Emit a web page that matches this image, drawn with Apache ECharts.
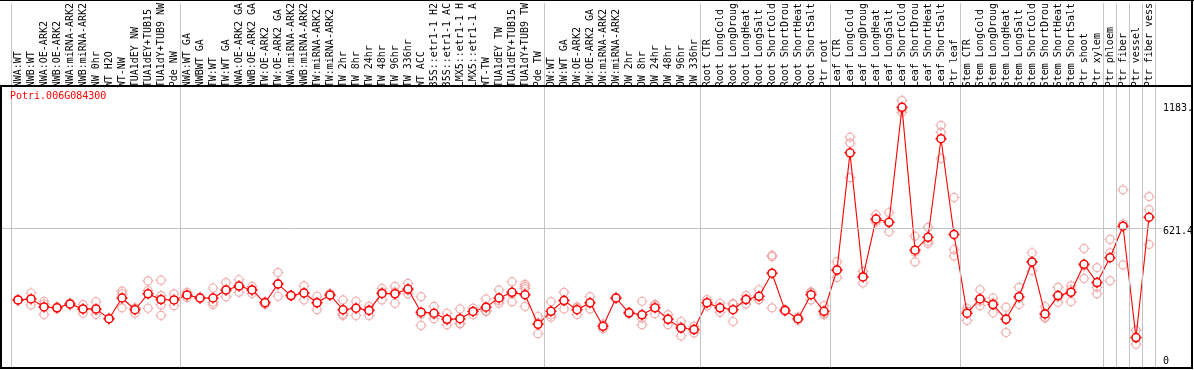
<!DOCTYPE html>
<html>
<head>
<meta charset="utf-8">
<script src="https://cdn.jsdelivr.net/npm/echarts@6/dist/echarts.min.js"></script>
<style>
html,body{margin:0;padding:0;background:#fff;}
#chart{width:1194px;height:370px;}
</style>
</head>
<body>
<div id="chart"></div>
<script>
const geneTitle = 'Potri.006G084300';

const categories = [
  'NWA:WT','NWB:WT','NWA:OE-ARK2','NWB:OE-ARK2','NWA:miRNA-ARK2','NWB:miRNA-ARK2','NW 0hr','WT H2O','WT-NW','TUA1dEY NW','TUA1dEY+TUB15','TUA1dY+TUB9 NW','Pde NW',
  'NWA:WT GA','NWBWT GA','TW:WT','TW:WT GA','NWA:OE-ARK2 GA','NWB:OE-ARK2 GA','TW:OE-ARK2','TW:OE-ARK2 GA','NWA:miRNA-ARK2','NWB:miRNA-ARK2','TW:miRNA-ARK2','TW:miRNA-ARK2','TW 2hr','TW 8hr','TW 24hr','TW 48hr','TW 96hr','TW 336hr','WT ACC','35S::etr1-1 H2','35S::etr1-1 AC','LMX5::etr1-1 H','LMX5::etr1-1 A','WT-TW','TUA1dEY TW','TUA1dEY+TUB15','TUA1dY+TUB9 TW','Pde TW',
  'OW:WT','OW:WT GA','OW:OE-ARK2','OW:OE-ARK2 GA','OW:miRNA-ARK2','OW:miRNA-ARK2','OW 2hr','OW 8hr','OW 24hr','OW 48hr','OW 96hr','OW 336hr',
  'Root CTR','Root LongCold','Root LongDroug','Root LongHeat','Root LongSalt','Root ShortCold','Root ShortDrou','Root ShortHeat','Root ShortSalt','Ptr root',
  'Leaf CTR','Leaf LongCold','Leaf LongDroug','Leaf LongHeat','Leaf LongSalt','Leaf ShortCold','Leaf ShortDrou','Leaf ShortHeat','Leaf ShortSalt','Ptr leaf',
  'Stem CTR','Stem LongCold','Stem LongDroug','Stem LongHeat','Stem LongSalt','Stem ShortCold','Stem ShortDrou','Stem ShortHeat','Stem ShortSalt','Ptr shoot','Ptr xylem',
  'Ptr phloem','Ptr fiber','Ptr vessel','Ptr fiber vess'
];

const meanValues = [
  298,303,266,262,280,257,257,212,307,253,326,300,298,
  321,307,307,344,362,344,285,371,318,330,285,321,253,260,250,328,326,348,242,237,209,212,245,265,307,333,322,186,
  246,295,253,285,177,307,239,230,262,209,169,162,
  285,262,253,300,315,421,250,212,322,246,
  436,974,404,670,655,1183,527,586,1039,599,
  237,303,277,209,313,473,234,318,333,462,378,
  492,637,125,678
];

const replicateValues = [
  [295,301],[330,275],[292,231,280],[258,266],[276,284],[277,237,257],[290,231,250],[210,214],[339,326,262],[237,260,262],[386,341,260],[389,318,275,227],[326,272],
  [333,309],[304,310],[353,287,277],[378,313,341],[391,333,362],[360,328,344],[287,277,290],[424,315,374],[315,321],[363,298,330],[315,253,287],[328,318,318],[298,227,234],[292,262,227],[269,227,254],[351,298,335],[360,283,335],[374,326,344],[313,181,232],[269,212,230],[237,184,206],[257,189,190],[260,230,245],[303,245,247],[344,283,294],[382,290,327],[370,360,350,268],[222,143,193],
  [290,219,230],[333,257,295],[262,231,266],[313,257,285],[166,188],[310,304],[235,243],[292,184,214],[277,235,274],[231,184,212],[199,133,175],[177,146,163],
  [300,270,285],[283,262,241],[280,199,280],[318,280,302],[345,300,300],[497,504,262],[255,245],[220,205],[333,298,335],[272,230,236],
  [474,401,433],[1046,1019,860],[429,376,407],[690,664,656],[700,611,654],[1214,1160,1175],[591,473,517],[632,558,568],[1100,1069,948],[769,530,500],
  [260,204,247],[345,272,292],[307,239,285],[265,148,214],[356,277,306],[515,432,472],[268,219,215],[356,287,311],[363,290,346],[535,397,454],[447,356,326],
  [576,515,386],[804,647,459],[158,95,122],[773,713,553]
];

// group separators (in category-index units)
const groupBounds = [-0.5, 12.5, 40.5, 52.5, 62.5, 72.5, 83.5, 84.5, 85.5, 86.5, 87.5];

// right-hand value labels
const yTickValues = [1183, 621.4, 0];
const yTickLabels = ['1183.', '621.4', '0'];
const yGridValues = [621.4];

const Y_MIN = -14.6, Y_MAX = 1661.2;
const FONT = 'DejaVu Sans Mono';
const RED = '#ff0000';
const PINK = '#ee9a9a';
const GREY = '#c4c4c4';
const SYM = 'path://M5.5,0V1.5M5.5,9.5V11M0,5.5H1.5M9.5,5.5H11M1.5,5.5A4,4 0 1,1 9.5,5.5A4,4 0 1,1 1.5,5.5Z';

const repData = [];
replicateValues.forEach((arr, i) => arr.forEach(v => repData.push([i, v])));

const frame = [
  {id: 'f1', type: 'rect', shape: {x: 0, y: 0, width: 1194, height: 1}, style: {fill: '#000'}, z: 100},
  {id: 'f2', type: 'rect', shape: {x: 0, y: 85, width: 1193, height: 2}, style: {fill: '#000'}, z: 100},
  {id: 'f3', type: 'rect', shape: {x: 0, y: 367, width: 1193, height: 2}, style: {fill: '#000'}, z: 100},
  {id: 'f4', type: 'rect', shape: {x: 0, y: 85, width: 2, height: 284}, style: {fill: '#000'}, z: 100},
  {id: 'f5', type: 'rect', shape: {x: 1191, y: 0, width: 2, height: 369}, style: {fill: '#000'}, z: 100}
];

const chart = echarts.init(document.getElementById('chart'), null, {renderer: 'canvas'});
chart.setOption({
  animation: false,
  backgroundColor: '#fff',
  title: {
    text: geneTitle, left: 10, top: 91, padding: 0,
    textStyle: {color: RED, fontFamily: FONT, fontSize: 10, fontWeight: 'normal'}
  },
  grid: [
    {left: 11.5, right: 38.5, top: 0, bottom: 2},
    {left: 0, right: 32, top: 0, bottom: 2}
  ],
  xAxis: [
    {
      type: 'category', gridIndex: 0, data: categories, position: 'top', offset: -88,
      axisLine: {show: false}, axisTick: {show: false}, splitLine: {show: false},
      axisLabel: {interval: 0, rotate: 90, margin: 4, fontFamily: FONT, fontSize: 10, color: '#000', hideOverlap: false}
    },
    {type: 'value', gridIndex: 0, min: -0.5, max: 87.5, show: false},
    {type: 'value', gridIndex: 1, min: 0, max: 1, show: false}
  ],
  yAxis: [
    {type: 'value', gridIndex: 0, min: Y_MIN, max: Y_MAX, show: false},
    {type: 'value', gridIndex: 1, min: Y_MIN, max: Y_MAX, show: false}
  ],
  series: [
    {
      type: 'line', xAxisIndex: 1, yAxisIndex: 0, data: [], silent: true,
      markLine: {
        silent: true, symbol: 'none', animation: false,
        label: {show: false},
        lineStyle: {color: GREY, width: 1, type: 'solid'},
        data: groupBounds.map(b => ({xAxis: b}))
      }
    },
    {
      type: 'line', xAxisIndex: 2, yAxisIndex: 1, data: [], silent: true,
      markLine: {
        silent: true, symbol: 'none', animation: false,
        label: {show: false},
        lineStyle: {color: GREY, width: 1, type: 'solid'},
        data: yGridValues.map(v => ({yAxis: v}))
      }
    },
    {
      type: 'scatter', xAxisIndex: 0, yAxisIndex: 0, data: repData, z: 3,
      symbol: SYM, symbolSize: 11,
      itemStyle: {color: 'rgba(255,255,255,0)', borderColor: PINK, borderWidth: 1.2}
    },
    {
      type: 'line', xAxisIndex: 0, yAxisIndex: 0, data: meanValues, z: 4,
      showSymbol: true, showAllSymbol: true,
      symbol: SYM, symbolSize: 11,
      lineStyle: {color: RED, width: 1.1},
      itemStyle: {color: '#ffffff', borderColor: RED, borderWidth: 1.5}
    }
  ],
  graphic: frame
});

// right-hand value labels positioned through the y scale of grid 1
const labelX = chart.convertToPixel({xAxisIndex: 2}, 1) + 1;
const tickTexts = yTickValues.map((v, k) => {
  const py = chart.convertToPixel({yAxisIndex: 1}, v);
  const shift = v === 0 ? -3 : 3.5;
  return {
    id: 't' + k, type: 'text', x: labelX, y: py + shift, z: 50,
    style: {text: yTickLabels[k], fill: '#000', font: '10px "DejaVu Sans Mono"', align: 'left', verticalAlign: 'middle'}
  };
});
chart.setOption({graphic: frame.concat(tickTexts)});
</script>
</body>
</html>
